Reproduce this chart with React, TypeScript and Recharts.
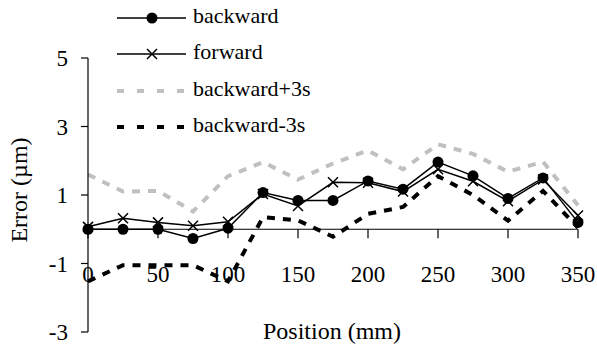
import React from 'react';
import { LineChart, Line, XAxis, YAxis, ReferenceLine } from 'recharts';

// positions along the axis (mm)
const positions = [0, 25, 50, 75, 100, 125, 150, 175, 200, 225, 250, 275, 300, 325, 350];
const backward = [0, 0, 0, -0.27, 0.03, 1.07, 0.84, 0.84, 1.41, 1.17, 1.96, 1.56, 0.9, 1.5, 0.2];
const forward = [0.07, 0.32, 0.2, 0.1, 0.22, 1.03, 0.68, 1.37, 1.36, 1.1, 1.75, 1.4, 0.82, 1.45, 0.4];
const backwardPlus3s = [1.6, 1.1, 1.12, 0.52, 1.55, 1.96, 1.45, 1.92, 2.3, 1.75, 2.48, 2.2, 1.68, 1.97, 0.7];
const backwardMinus3s = [-1.52, -1.05, -1.05, -1.05, -1.52, 0.35, 0.26, -0.22, 0.45, 0.65, 1.55, 1.0, 0.25, 1.12, 0.05];

const xTicks = [0, 50, 100, 150, 200, 250, 300, 350];
const yTicks = [-3, -1, 1, 3, 5];

const data = positions.map((p, i) => ({
    pos: p,
    backward: backward[i],
    forward: forward[i],
    plus: backwardPlus3s[i],
    minus: backwardMinus3s[i],
}));

const FONT = 'Liberation Serif, DejaVu Serif, serif';
const GRAY = '#c0c0c0';

const XTick = ({ x, y, payload }: any) => (
    <text x={x} y={y - 58} textAnchor="middle" fontFamily={FONT} fontSize={23} fill="#000">
        {payload.value}
    </text>
);

const CrossDot = ({ cx, cy }: any) => {
    if (cx == null || cy == null) return null;
    const s = 5;
    return (
        <path d={`M${cx - s},${cy - s}L${cx + s},${cy + s}M${cx - s},${cy + s}L${cx + s},${cy - s}`}
            stroke="#000" strokeWidth={1.5} fill="none" />
    );
};

const legendRows = [
    { name: 'backward', kind: 'circle' },
    { name: 'forward', kind: 'cross' },
    { name: 'backward+3s', kind: 'gray' },
    { name: 'backward-3s', kind: 'black' },
];

// legend sits on top of the plot, like the original
const ChartLegend = () => (
    <div style={{ position: 'absolute', left: 117, top: 0, fontFamily: FONT, fontSize: 22, color: '#000' }}>
        {legendRows.map(r => (
            <div key={r.name} style={{ display: 'flex', alignItems: 'center', height: 36.3 }}>
                <svg width={76} height={20} style={{ flex: 'none' }}>
                    {r.kind === 'circle' && <>
                        <line x1={0} y1={10} x2={69} y2={10} stroke="#000" strokeWidth={1.5} />
                        <circle cx={35} cy={10} r={5.5} fill="#000" />
                    </>}
                    {r.kind === 'cross' && <>
                        <line x1={0} y1={10} x2={69} y2={10} stroke="#000" strokeWidth={1.5} />
                        <path d="M30,5L40,15M30,15L40,5" stroke="#000" strokeWidth={1.5} />
                    </>}
                    {r.kind === 'gray' && <line x1={0} y1={10} x2={69} y2={10} stroke={GRAY} strokeWidth={4} strokeDasharray="7 13" />}
                    {r.kind === 'black' && <line x1={0} y1={10} x2={69} y2={10} stroke="#000" strokeWidth={4} strokeDasharray="7 13" />}
                </svg>
                <span style={{ lineHeight: 1, marginTop: -4, whiteSpace: 'nowrap' }}>{r.name}</span>
            </div>
        ))}
    </div>
);

export default function App() {
    return (
        <div style={{ position: 'absolute', left: 0, top: 0, width: 597, height: 345, background: '#fff' }}>
            <LineChart width={597} height={345} data={data} margin={{ top: 58, right: 19, bottom: 0, left: 0 }}>
                <XAxis dataKey="pos" type="number" domain={[0, 350]} ticks={xTicks} height={13}
                    axisLine={false} tickLine={false} tick={<XTick />} interval={0} />
                <YAxis type="number" domain={[-3, 5]} ticks={yTicks} width={88}
                    axisLine={{ stroke: '#000', strokeWidth: 1.2 }} tickLine={{ stroke: '#000', strokeWidth: 1.2 }}
                    tickSize={7} tickMargin={13}
                    tick={{ fill: '#000', fontFamily: FONT, fontSize: 23 }} />
                <ReferenceLine y={0} stroke="#000" strokeWidth={1.2} />
                {xTicks.map(t => (
                    <ReferenceLine key={t} segment={[{ x: t, y: 0 }, { x: t, y: -0.26 }]} stroke="#000" strokeWidth={1.2} />
                ))}
                <Line dataKey="plus" stroke={GRAY} strokeWidth={4} strokeDasharray="8 8" dot={false} isAnimationActive={false} />
                <Line dataKey="minus" stroke="#000" strokeWidth={4} strokeDasharray="8 8" dot={false} isAnimationActive={false} />
                <Line dataKey="forward" stroke="#000" strokeWidth={1.5} dot={<CrossDot />} isAnimationActive={false} />
                <Line dataKey="backward" stroke="#000" strokeWidth={1.5} dot={{ r: 5.5, fill: '#000', stroke: '#000', strokeWidth: 0 }} isAnimationActive={false} />
            </LineChart>
            <ChartLegend />
            <svg width={597} height={345} style={{ position: 'absolute', left: 0, top: 0, pointerEvents: 'none' }}>
                <text x={332} y={339} textAnchor="middle" fontFamily={FONT} fontSize={24} fill="#000">Position (mm)</text>
                <text transform="translate(27,190) rotate(-90)" textAnchor="middle" fontFamily={FONT} fontSize={24} fill="#000">Error (µm)</text>
            </svg>
        </div>
    );
}
